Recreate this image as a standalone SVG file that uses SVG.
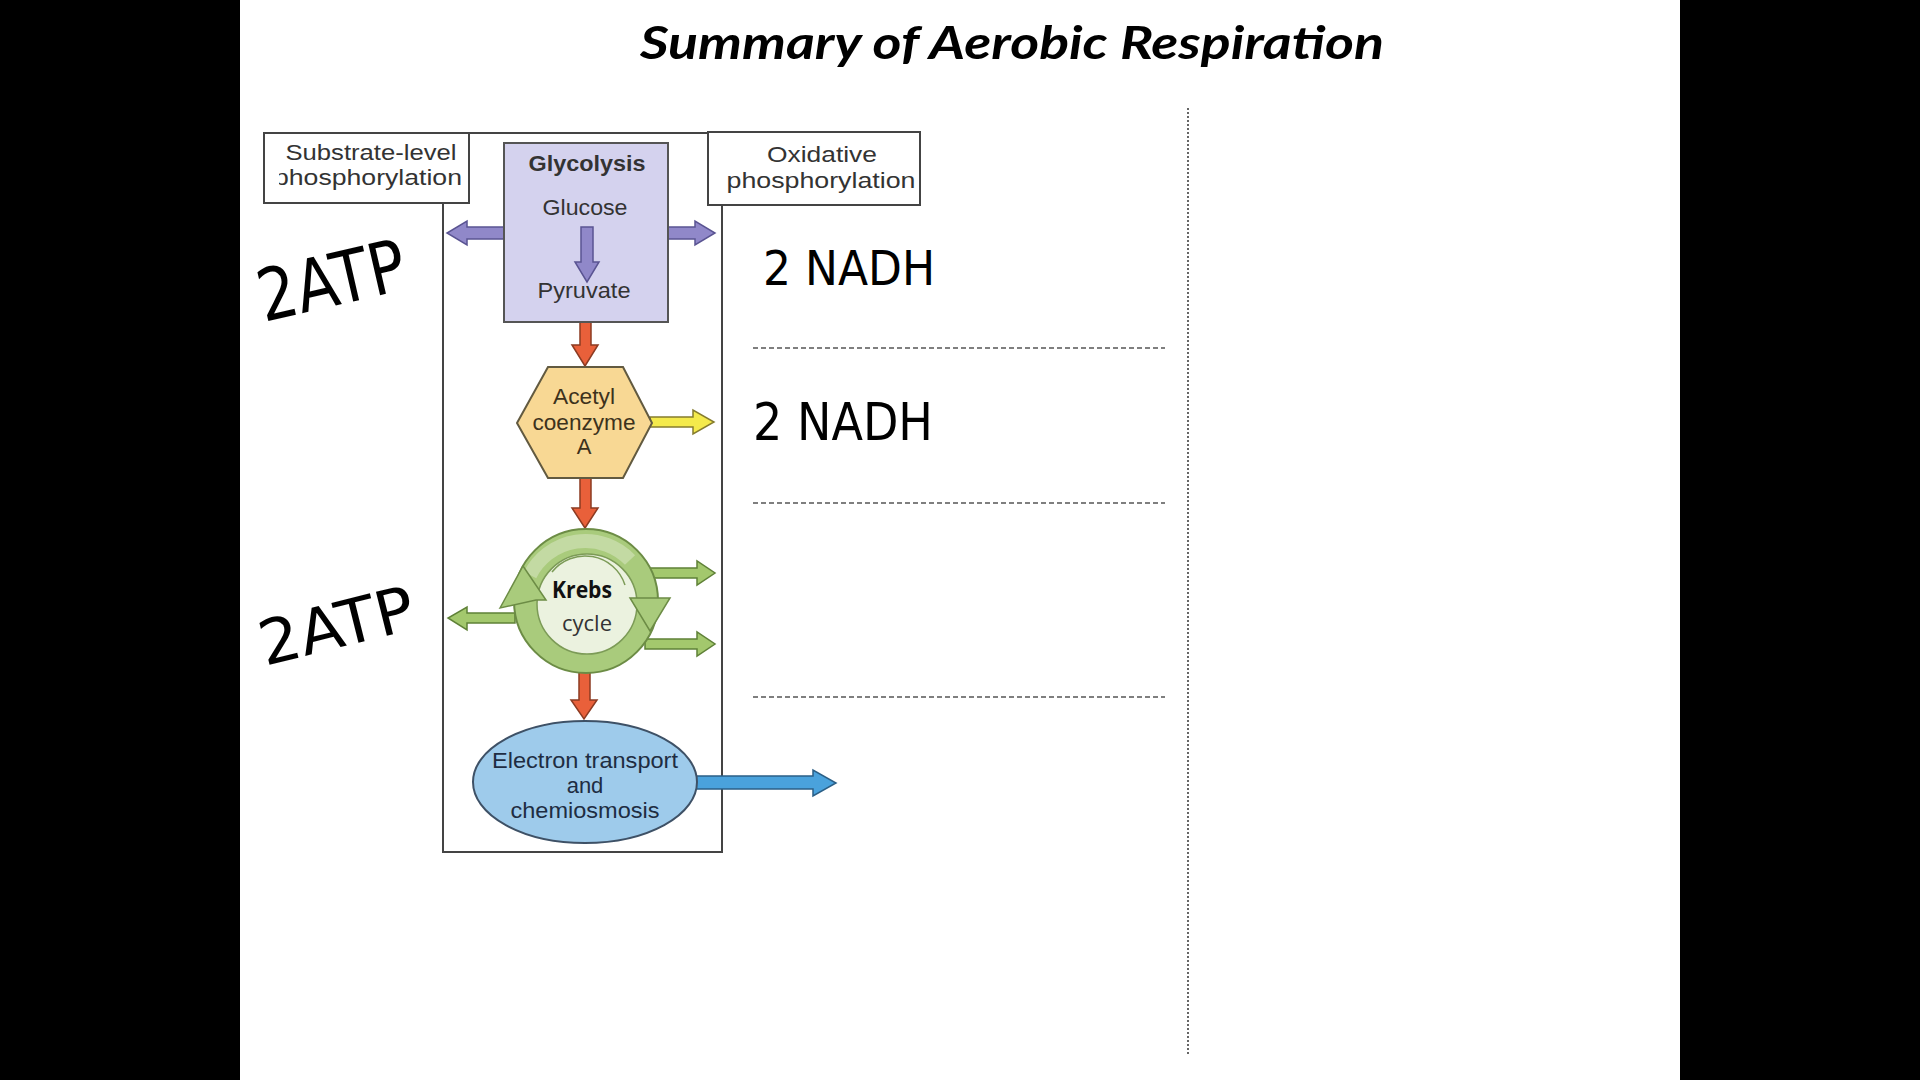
<svg xmlns="http://www.w3.org/2000/svg" width="1920" height="1080" viewBox="0 0 1920 1080">
<defs>
<style>
.lbl{font-family:"Liberation Sans",Arial,sans-serif;font-size:22px;fill:#333;text-anchor:middle}
.hand{font-family:"DejaVu Sans",sans-serif;fill:#000;stroke:none}
.box{fill:#fff;stroke:#444;stroke-width:2}
.frame{fill:none;stroke:#444;stroke-width:2}
.purple{fill:#9088c9;stroke:#5a5492;stroke-width:1.5}
.orange{fill:#e9603a;stroke:#8c3b22;stroke-width:1.5}
.yellow{fill:#f4ea4c;stroke:#857c2e;stroke-width:1.5}
.green{fill:#a3c86d;stroke:#5f8137;stroke-width:1.5}
.blue{fill:#4aa2dc;stroke:#2b5f86;stroke-width:1.5}
.dash{stroke:#555;stroke-width:1.5;stroke-dasharray:5 3;fill:none}
</style>
<clipPath id="subclip"><rect x="279" y="133" width="190" height="70"/></clipPath>
</defs>
<rect x="0" y="0" width="1920" height="1080" fill="#fff"/>
<rect x="0" y="0" width="240" height="1080" fill="#000"/>
<rect x="1680" y="0" width="240" height="1080" fill="#000"/>

<text x="1012" y="59" font-family="Lato,'Open Sans',sans-serif" font-weight="bold" font-style="italic" font-size="46" fill="#000" text-anchor="middle" textLength="744" lengthAdjust="spacingAndGlyphs">Summary of Aerobic Respiration</text>

<g id="frame">
<rect class="frame" x="443" y="133" width="279" height="719"/>
</g>

<g id="connectors">
<polygon class="purple" points="504,227 467,227 467,221 447,233 467,245 467,239 504,239"/>
<polygon class="purple" points="668,227 695,227 695,221 715,233 695,245 695,239 668,239"/>
<polygon class="orange" points="580,322 591,322 591,345 598,345 585,366 572,345 580,345"/>
<polygon class="yellow" points="650,417 693,417 693,410 714,422 693,434 693,427 650,427"/>
<polygon class="orange" points="580,478 591,478 591,508 598,508 585,528 572,508 580,508"/>
<polygon class="green" points="650,568 697,568 697,561 715,573 697,585 697,578 650,578"/>
<polygon class="green" points="645,639 697,639 697,632 715,644 697,656 697,649 645,649"/>
<polygon class="green" points="515,613 467,613 467,607 448,618 467,630 467,623 515,623"/>
<polygon class="orange" points="579,672 590,672 590,700 597,700 584,719 571,700 579,700"/>
<polygon class="blue" points="695,776 813,776 813,770 836,783 813,796 813,789 695,789"/>
</g>

<g id="substrate">
<rect class="box" x="264" y="133" width="205" height="70"/>
<text class="lbl" x="371" y="160" textLength="171" lengthAdjust="spacingAndGlyphs">Substrate-level</text>
<g clip-path="url(#subclip)"><text class="lbl" x="368" y="185" textLength="188" lengthAdjust="spacingAndGlyphs">phosphorylation</text></g>
</g>

<g id="oxidative">
<rect class="box" x="708" y="132" width="212" height="73"/>
<text class="lbl" x="822" y="162" textLength="110" lengthAdjust="spacingAndGlyphs">Oxidative</text>
<text class="lbl" x="821" y="188" textLength="189" lengthAdjust="spacingAndGlyphs">phosphorylation</text>
</g>

<g id="glycolysis">
<rect x="504" y="143" width="164" height="179" fill="#d4d2ee" stroke="#555" stroke-width="2"/>
<text class="lbl" x="587" y="171" font-weight="bold" textLength="117" lengthAdjust="spacingAndGlyphs">Glycolysis</text>
<text class="lbl" x="585" y="215" textLength="85" lengthAdjust="spacingAndGlyphs">Glucose</text>
<polygon class="purple" points="581,227 593,227 593,262 599,262 587,282 575,262 581,262"/>
<text class="lbl" x="584" y="298" textLength="93" lengthAdjust="spacingAndGlyphs">Pyruvate</text>
</g>

<g id="acetyl">
<polygon points="517,423 548,367 623,367 652,423 623,478 548,478" fill="#f8d894" stroke="#625a40" stroke-width="2"/>
<text class="lbl" x="584" y="404" style="fill:#3d321c" textLength="62" lengthAdjust="spacingAndGlyphs">Acetyl</text>
<text class="lbl" x="584" y="430" style="fill:#3d321c" textLength="103" lengthAdjust="spacingAndGlyphs">coenzyme</text>
<text class="lbl" x="584" y="454" style="fill:#3d321c">A</text>
</g>

<g id="krebs">
<circle cx="586" cy="601" r="72" fill="#a9cb7c" stroke="#6c8c45" stroke-width="2"/>
<path d="M 530 575 A 62 62 0 0 1 630 560" fill="none" stroke="#cfe0b4" stroke-width="14" opacity="0.7"/>
<circle cx="587" cy="604" r="50" fill="#ebf2df" stroke="#7c9b57" stroke-width="1.5"/>
<path d="M 552 572 A 42 42 0 0 1 625 585" fill="none" stroke="#7c9b57" stroke-width="1.5"/>
<polygon points="500,608 523,566 546,600 536,600" fill="#a9cb7c" stroke="#6c8c45" stroke-width="1.5"/>
<polygon points="630,598 670,598 650,631" fill="#a9cb7c" stroke="#6c8c45" stroke-width="1.5"/>
<text x="582" y="598" font-family="'Open Sans','Noto Sans',sans-serif" font-weight="bold" font-size="24" fill="#111" text-anchor="middle" textLength="60" lengthAdjust="spacingAndGlyphs">Krebs</text>
<text x="587" y="631" font-family="'Open Sans','Noto Sans',sans-serif" font-size="22" fill="#333" text-anchor="middle" textLength="50" lengthAdjust="spacingAndGlyphs">cycle</text>
</g>

<g id="electron-transport">
<ellipse cx="585" cy="782" rx="112" ry="61" fill="#9ecbeb" stroke="#3e5166" stroke-width="2"/>
<text class="lbl" x="585" y="768" style="fill:#1e2d42" textLength="186" lengthAdjust="spacingAndGlyphs">Electron transport</text>
<text class="lbl" x="585" y="793" style="fill:#1e2d42">and</text>
<text class="lbl" x="585" y="818" style="fill:#1e2d42" textLength="149" lengthAdjust="spacingAndGlyphs">chemiosmosis</text>
</g>

<g id="guides">
<line class="dash" x1="753" y1="348" x2="1165" y2="348"/>
<line class="dash" x1="753" y1="503" x2="1165" y2="503"/>
<line class="dash" x1="753" y1="697" x2="1165" y2="697"/>
<line x1="1188" y1="108" x2="1188" y2="1055" stroke="#666" stroke-width="2" stroke-dasharray="2 2"/>
</g>

<g id="handwriting">
<text class="hand" font-size="72" transform="translate(264,322) rotate(-13)" textLength="150" lengthAdjust="spacingAndGlyphs">2ATP</text>
<text class="hand" font-size="62" transform="translate(265,666) rotate(-14)" textLength="158" lengthAdjust="spacingAndGlyphs">2ATP</text>
<text class="hand" x="763" y="285" font-size="48" textLength="172" lengthAdjust="spacingAndGlyphs">2 NADH</text>
<text class="hand" x="753" y="440" font-size="52" textLength="180" lengthAdjust="spacingAndGlyphs">2 NADH</text>
</g>
</svg>
